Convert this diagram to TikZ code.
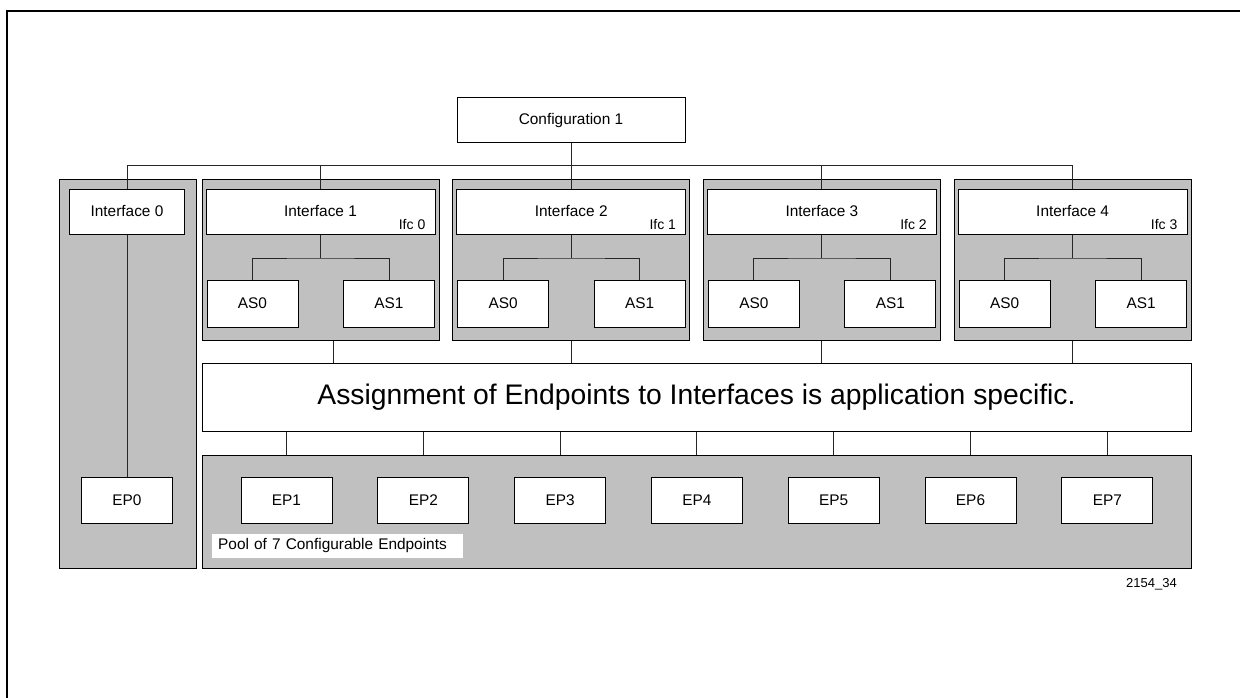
\documentclass[tikz,border=0pt]{standalone}
\usepackage{fontspec}
\setmainfont{Liberation Sans}
\usepackage{tikz}
\usetikzlibrary{positioning,calc}

\definecolor{grpgray}{HTML}{C0C0C0}
\definecolor{wirec}{HTML}{262626}

\tikzset{
  box/.style={draw=black, fill=white, line width=1pt, inner sep=0pt,
    font=\fontsize{15.4}{18}\selectfont},
  grp/.style={draw=black, fill=grpgray, line width=1pt, inner sep=0pt},
  wire/.style={draw=wirec, line width=1pt},
  ifctag/.style={inner sep=0pt, font=\fontsize{14}{16}\selectfont},
}

\begin{document}
\begin{tikzpicture}[x=1pt,y=-1pt]
    \useasboundingbox (0,0) rectangle (1240,698);
    \draw[line width=2pt] (7,698) -- (7,11) -- (1240,11);

    % grey groups
    \node[grp, minimum width=137, minimum height=388] (grp0) at (127.5,374) {};
    \foreach \i in {1,...,4}
        \node[grp, minimum width=237, minimum height=160] (grp\i) at ({320.5+(\i-1)*250.7},260) {};
    \node[grp, minimum width=989, minimum height=113] (pool) at (696.5,511.5) {};

    \node[box, minimum width=228, minimum height=45] (cfg) at (571,120.5) {Configuration 1};

    \node[box, minimum width=115, minimum height=45] (ifc0) at (127,211.5) {Interface 0};
    \foreach \i/\n in {1/0, 2/1, 3/2, 4/3} {
        \node[box, minimum width=229, minimum height=45] (ifc\i) at ({320.5+(\i-1)*250.7},211.5) {Interface \i};
        \node[ifctag, anchor=base east] (tag\i) at ([xshift=-10pt,yshift=5.5pt]ifc\i.south east) {Ifc \n};
        \node[box, minimum width=91, minimum height=47] (asa\i) at ({252.5+(\i-1)*250.7},303.5) {AS0};
        \node[box, minimum width=91, minimum height=47] (asb\i) at ({389+(\i-1)*250.7},303.5) {AS1};
    }

    \node[box, minimum width=989, minimum height=68, font=\fontsize{28.3}{32}\selectfont] (assign) at (696.5,397)
        {Assignment of Endpoints to Interfaces is application specific.};

    \node[box, minimum width=91, minimum height=46] (ep0) at (127,500) {EP0};
    \foreach \k in {1,...,7}
        \node[box, minimum width=91, minimum height=46] (ep\k) at ({286.5+(\k-1)*136.8},500) {EP\k};

    \node[fill=white, anchor=west, inner xsep=6pt, inner ysep=0pt, text width=239pt, minimum height=24,
        align=left, font=\fontsize{15.4}{18}\selectfont] (poollbl) at (212,546) {Pool of 7 Configurable Endpoints};
    \node[anchor=east, inner sep=0pt, font=\fontsize{13}{15}\selectfont] (fig) at (1177,584) {2154\_34};

    % connectors
    \coordinate (bus) at (0,166);
    \coordinate (brk) at (0,258);
    \draw[wire] (cfg.south) -- (cfg.south |- bus);
    \draw[wire] (ifc0.north) |- (ifc4.north |- bus) -- (ifc4.north);
    \foreach \i in {1,2,3}
        \draw[wire] (ifc\i.north) -- (ifc\i.north |- bus);
    \draw[wire] (ifc0.south) -- (ep0.north);
    \foreach \i in {1,...,4} {
        \draw[wire] (ifc\i.south) -- (ifc\i.south |- brk);
        \draw[wire] (asa\i.north) |- (ifc\i.south |- brk) -| (asb\i.north);
    }
    \foreach \i/\dx in {1/12.5, 2/0, 3/0, 4/0} {
        \coordinate (gb\i) at ([xshift=\dx pt]grp\i.south);
        \draw[wire] (gb\i) -- (gb\i |- assign.north);
    }
    \foreach \k in {1,...,7}
        \draw[wire] (ep\k.north |- pool.north) -- (ep\k.north |- assign.south);
\end{tikzpicture}
\end{document}
